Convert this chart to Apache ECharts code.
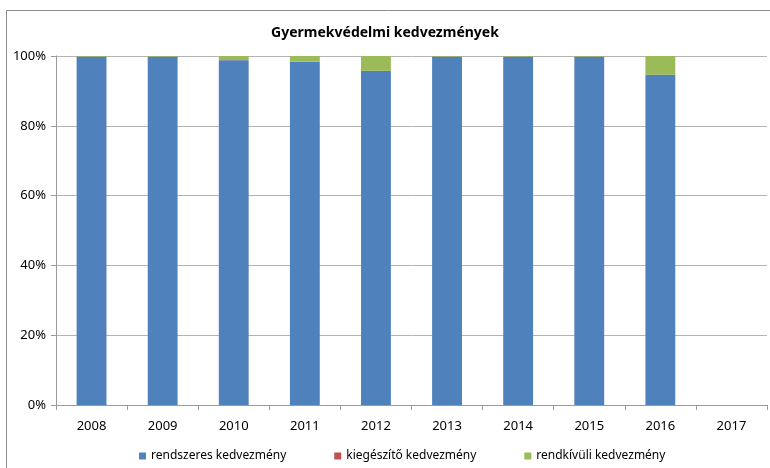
<!DOCTYPE html>
<html>
<head>
<meta charset="utf-8">
<script src="https://cdn.jsdelivr.net/npm/echarts@6/dist/echarts.min.js"></script>
<style>
  html, body { margin: 0; padding: 0; background: #fff; }
  #chart { width: 770px; height: 468px; }
</style>
</head>
<body>
<div id="chart"></div>
<script>
// év szerinti megoszlás (%)
const years = ['2008', '2009', '2010', '2011', '2012', '2013', '2014', '2015', '2016', '2017'];
const rendszeres = [99.8, 99.8, 98.8, 98.3, 95.7, 99.8, 99.8, 99.8, 94.6, null];
const kiegeszito = [0.05, 0.05, 0.05, 0.05, 0.05, 0.05, 0.05, 0.05, 0.05, null];
const rendkivuli = [0.15, 0.15, 1.15, 1.65, 4.25, 0.15, 0.15, 0.15, 5.35, null];

const font = 'Noto Sans';
const chart = echarts.init(document.getElementById('chart'));

const makeSeries = (name, data, color) => ({
  name: name,
  type: 'bar',
  stack: 'total',
  barWidth: '42%',
  itemStyle: { color: color },
  data: data
});

chart.setOption({
  animation: false,
  textStyle: { fontFamily: font },
  title: {
    text: 'Gyermekvédelmi kedvezmények',
    left: 'center',
    top: 21,
    textStyle: { fontSize: 14, fontWeight: 'bold', color: '#000', fontFamily: font }
  },
  legend: {
    bottom: 1,
    left: 134,
    itemWidth: 7,
    itemHeight: 7,
    itemGap: 48,
    icon: 'rect',
    textStyle: { fontSize: 12, color: '#000', fontFamily: font },
    data: ['rendszeres kedvezmény', 'kiegészítő kedvezmény', 'rendkívüli kedvezmény']
  },
  grid: { left: 56, right: 3, top: 56, bottom: 63 },
  xAxis: {
    type: 'category',
    data: years,
    axisLine: { lineStyle: { color: '#9a9a9a' } },
    axisTick: { show: true, length: 5, lineStyle: { color: '#9a9a9a' } },
    axisLabel: { fontSize: 13, color: '#000', margin: 15 }
  },
  yAxis: {
    type: 'value',
    min: 0,
    max: 100,
    interval: 20,
    axisLine: { show: true, lineStyle: { color: '#9a9a9a' } },
    axisTick: { show: true, length: 5, lineStyle: { color: '#9a9a9a' } },
    axisLabel: { fontSize: 13, color: '#000', margin: 10, formatter: '{value}%' },
    splitLine: { lineStyle: { color: '#b3b3b3' } }
  },
  series: [
    makeSeries('rendszeres kedvezmény', rendszeres, '#4f81bd'),
    makeSeries('kiegészítő kedvezmény', kiegeszito, '#c0504d'),
    makeSeries('rendkívüli kedvezmény', rendkivuli, '#9bbb59')
  ],
  graphic: [{
    type: 'rect',
    shape: { x: 6.5, y: 10.5, width: 800, height: 500 },
    style: { fill: 'none', stroke: '#8c8c8c', lineWidth: 1 },
    silent: true,
    z: -1
  }]
});
</script>
</body>
</html>
